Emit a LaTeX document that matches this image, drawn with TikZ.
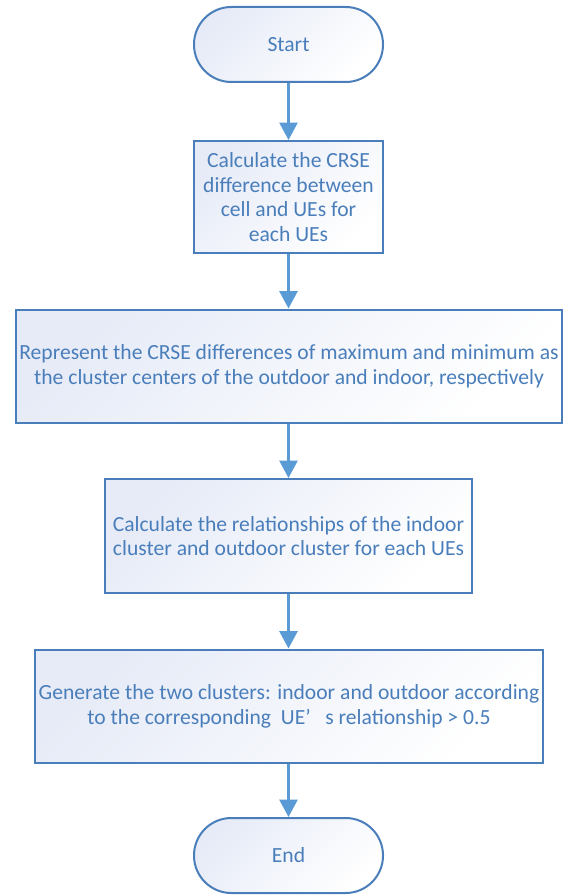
\documentclass[tikz,border=0pt]{standalone}
\usepackage{fontspec}
\setmainfont{Carlito}
\usetikzlibrary{arrows.meta}
\definecolor{flowblue}{HTML}{4A7EBB}
\definecolor{arrowblue}{HTML}{5B9BD5}
\definecolor{fillblue}{HTML}{E6EBF7}
\tikzset{
  box/.style={draw=flowblue, line width=1.5pt, text=flowblue, align=center, inner sep=0pt,
    top color=fillblue, bottom color=white, shading angle=45,
    font=\fontsize{16.2pt}{18.6pt}\selectfont},
  term/.style={box, rounded corners=28pt, minimum width=141.75pt, minimum height=56.25pt},
  flow/.style={arrowblue, line width=1.8pt, -{Triangle[width=13.5pt,length=13pt]}}
}

\begin{document}
\begin{tikzpicture}[x=0.75pt,y=-0.75pt]
\useasboundingbox (0,0) rectangle (574,895);
\node[term] (start) at (288.5,44.5) {Start};
\node[box, minimum width=141.75pt, minimum height=84pt] (crse) at (288.5,197)
  {Calculate the CRSE\\difference between\\cell and UEs for\\each UEs};
\node[box, minimum width=409.5pt, minimum height=84.75pt] (centers) at (289,366)
  {Represent the CRSE differences of maximum and minimum as\\the cluster centers of the outdoor and indoor, respectively};
\node[box, minimum width=275.25pt, minimum height=85.5pt] (relation) at (288.5,536)
  {Calculate the relationships of the indoor\\cluster and outdoor cluster for each UEs};
\node[box, minimum width=381pt, minimum height=84.75pt] (clusters) at (289,706)
  {Generate the two clusters: indoor and outdoor according\\to the corresponding\ \ UE’\ \ \ s relationship > 0.5};
\node[term] (end) at (288.5,855.5) {End};
\draw[flow] (start) -- (crse);
\draw[flow] (crse) -- (centers.north -| crse);
\draw[flow] (centers.south -| crse) -- (relation);
\draw[flow] (relation) -- (clusters.north -| relation);
\draw[flow] (clusters.south -| relation) -- (end);
\end{tikzpicture}
\end{document}
